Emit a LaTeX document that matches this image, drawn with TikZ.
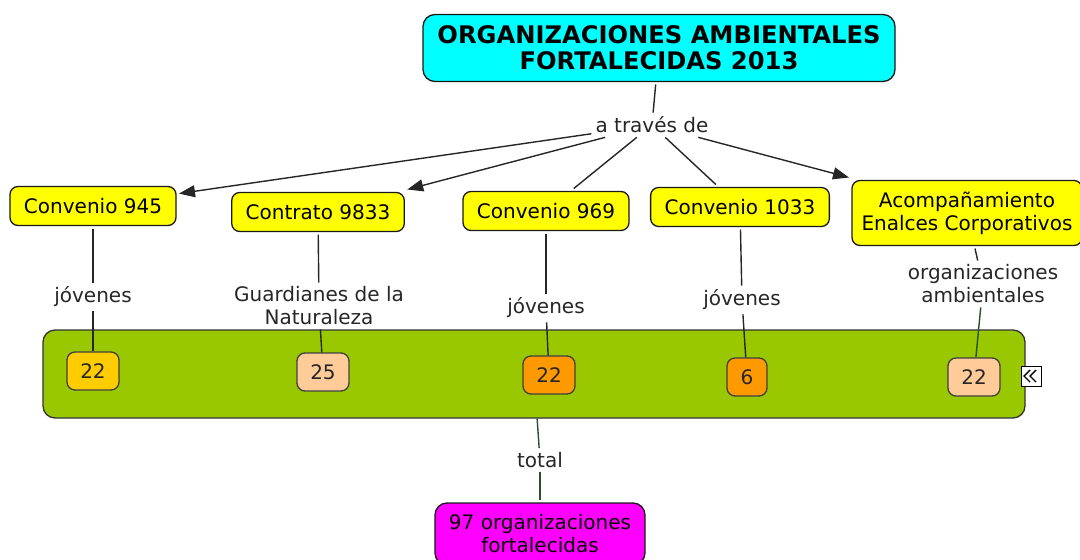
\documentclass[tikz,border=0pt]{standalone}
\usepackage{fontspec}
\setmainfont{DejaVu Sans}
\usetikzlibrary{arrows.meta}
\definecolor{cyanbox}{RGB}{0,255,255}
\definecolor{yelbox}{RGB}{255,255,0}
\definecolor{bandgreen}{RGB}{153,200,0}
\definecolor{goldbox}{RGB}{255,204,0}
\definecolor{peachbox}{RGB}{255,204,153}
\definecolor{orangebox}{RGB}{255,153,0}
\definecolor{magbox}{RGB}{255,0,255}
\definecolor{dkgreen}{RGB}{40,80,40}
\begin{document}
\begin{tikzpicture}[x=1pt,y=-1pt,
  box/.style={draw=black!90, line width=1.3pt, rounded corners=8pt, fill=yelbox,
    font=\fontsize{20}{23}\selectfont, inner xsep=14pt, inner ysep=2pt,
    minimum height=39pt, align=center, outer sep=3pt},
  lbl/.style={font=\fontsize{20}{23}\selectfont, inner sep=4pt, align=center, text=black!85},
  num/.style={draw=black!75, line width=1.3pt, rounded corners=8pt, minimum width=52pt,
    minimum height=38pt, inner sep=0pt, font=\fontsize{20}{23}\selectfont, text=black!85},
  con/.style={line width=1.4pt, draw=black!85},
  gcon/.style={line width=1.4pt, draw=dkgreen},
  arr/.style={con, -{Triangle[length=16pt,width=12pt]}}
]
\useasboundingbox (0,0) rectangle (1080,560);

% main nodes
\node[box, fill=cyanbox, font=\bfseries\fontsize{24.2}{26}\selectfont,
  minimum width=472pt, minimum height=67pt, rounded corners=12pt] (title) at (659,48)
  {ORGANIZACIONES AMBIENTALES\\FORTALECIDAS 2013};
\node[lbl] (atd) at (652,125) {a través de};

\node[box] (c945) at (93,206) {Convenio 945};
\node[box] (c9833) at (318,212) {Contrato 9833};
\node[box] (c969) at (546,211) {Convenio 969};
\node[box] (c1033) at (740,207) {Convenio 1033};
\node[box, minimum height=65pt, minimum width=230pt, inner xsep=8pt] (acomp) at (967,213)
  {Acompañamiento\\Enalces Corporativos};

% linking labels
\node[lbl] (j1) at (93,297) {jóvenes};
\node[lbl] (gn) at (319,306) {Guardianes de la\\Naturaleza};
\node[lbl] (j2) at (546,308) {jóvenes};
\node[lbl] (j3) at (742,300) {jóvenes};
\node[lbl] (oa) at (983,284) {organizaciones\\ambientales};

% green band
\node[draw=black!80, line width=1.3pt, fill=bandgreen, rounded corners=12pt,
  minimum width=982pt, minimum height=88pt, inner sep=0pt] (band) at (534,374) {};

\node[lbl] (tot) at (540,460) {total};
\node[box, fill=magbox, minimum width=210pt, minimum height=62pt, rounded corners=12pt]
  (t97) at (540,534) {97 organizaciones\\fortalecidas};

% connectors
\draw[con] (title) -- (atd);
\draw[arr] (atd) -- (c945);
\draw[arr] (atd) -- (c9833.north east);
\draw[con] (atd) -- (c969);
\draw[con] (atd) -- (c1033);
\draw[arr] (atd) -- (acomp.north west);

\draw[con] (c945) -- (j1);
\draw[con] (c9833) -- (gn);
\draw[con] (c969) -- (j2);
\draw[con] (c1033) -- (j3);
\draw[con] (acomp) -- (oa);

% number boxes
\node[num, fill=goldbox] (n1) at (93,371) {22};
\node[num, fill=peachbox] (n2) at (323,372) {25};
\node[num, fill=orangebox] (n3) at (549,375) {22};
\node[num, fill=orangebox, minimum width=40pt] (n4) at (747,377) {6};
\node[num, fill=peachbox] (n5) at (974,377) {22};

\draw[con] (j1) -- (n1);
\draw[con] (gn) -- (n2);
\draw[con] (j2) -- (n3);
\draw[con] (j3) -- (n4);
\draw[gcon] (oa) -- (n5);

\draw[gcon] (band) -- (tot);
\draw[gcon] (tot) -- (t97);

% collapse icon
\node[draw=black, fill=white, line width=0.8pt, minimum size=20pt, inner sep=0pt] (icon) at (1031,376) {};
\draw[line width=1.4pt] (icon.center) ++(-1,-6) -- ++(-6,6) -- ++(6,6);
\draw[line width=1.4pt] (icon.center) ++(5,-6) -- ++(-6,6) -- ++(6,6);
\end{tikzpicture}
\end{document}
